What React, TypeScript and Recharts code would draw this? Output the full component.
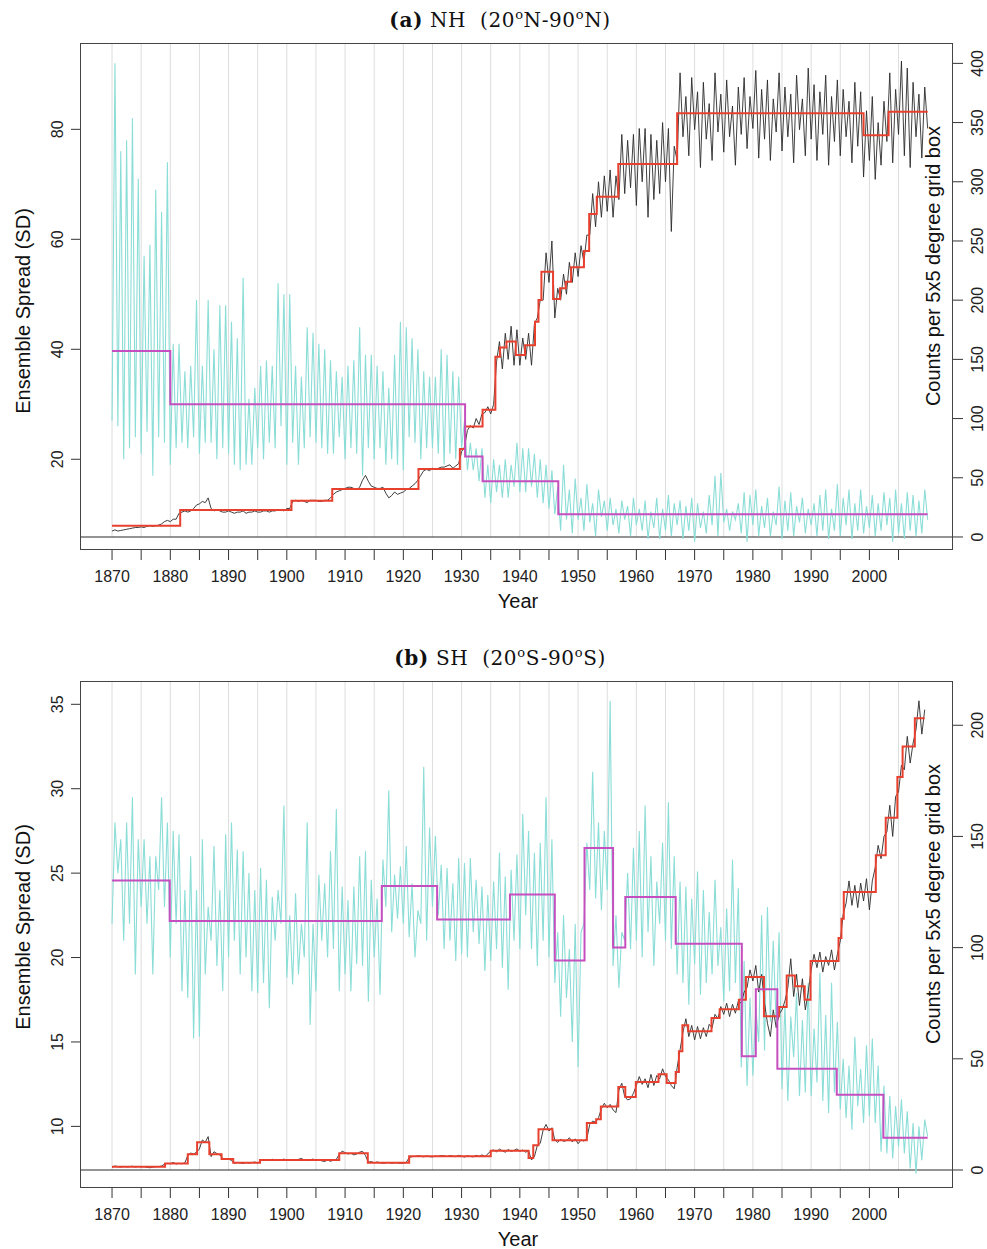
import React from "react";
import { ComposedChart, Line, XAxis, YAxis, ReferenceLine } from "recharts";

// Half-yearly readings (1870.0, 1870.5, ...). Spread is in SD units, counts per 5x5 box.
const nhSpread = [
  27, 92, 26, 76, 20, 78, 22, 82, 24, 71, 21, 57, 25, 59, 17, 69, 24, 65, 23, 74,
  19, 41, 22, 41, 23, 36, 22, 37, 24, 49, 21, 37, 23, 49, 23, 40, 20, 48, 22, 48,
  21, 45, 19, 42, 18, 53, 19, 31, 19, 33, 22, 37, 20, 38, 23, 37, 22, 52, 26, 50,
  19, 50, 23, 37, 19, 35, 22, 44, 24, 43, 23, 41, 22, 40, 21, 38, 21, 36, 24, 35,
  20, 37, 22, 38, 21, 44, 17, 39, 22, 39, 20, 37, 22, 36, 19, 33, 20, 39, 19, 45,
  18, 44, 24, 42, 23, 40, 20, 36, 22, 35, 22, 35, 21, 40, 19, 39, 21, 36, 20, 35,
  22, 27, 18, 23, 18, 22, 16, 22, 13, 19, 12, 20, 14, 19, 13, 20, 13, 19, 15, 23,
  14, 22, 14, 22, 15, 21, 13, 20, 12, 19, 11, 18, 10, 15, 7, 19, 9, 14.5, 6.5, 16.5,
  9, 13, 7, 15.5, 8.5, 12, 6, 14.5, 9.5, 12.5, 7, 13, 8, 11, 6.5, 12.5, 9, 11.5, 6, 13,
  8, 11, 7, 12.5, 5.5, 10.5, 7.5, 13, 5.5, 11, 7, 13.5, 6, 12, 8, 12.5, 5.5, 11.5, 7, 13,
  5, 12, 7.5, 10.5, 6.5, 13.5, 8, 17, 6, 17.5, 8.5, 11, 7, 10.5, 9, 12, 6.5, 14, 5, 13.5,
  8, 14.5, 6, 11.5, 7.5, 13, 6, 10.5, 8, 15, 5.5, 12.5, 7, 14, 6, 11.5, 8.5, 13, 6.5, 11,
  8, 12, 6, 13.5, 7, 14.5, 5.5, 11, 7, 15.5, 6, 13, 8, 14.5, 5.5, 12, 7, 14.5, 6.5, 11.5,
  7.5, 13.5, 6, 12, 7, 14, 8, 13, 5, 14.5, 6.5, 12, 5.5, 14, 7, 13.5, 6, 12.5, 6.5, 14.5,
  9,
];

const nhCounts = [
  5, 6, 5, 5.5, 6, 6.5, 7, 7.5, 8, 8, 8.5, 8, 9, 9.5, 9, 9.5, 10, 11, 13, 14,
  13, 15, 15, 20, 21, 22, 21, 22, 24, 27, 28, 30, 29, 33, 24, 22, 23, 22, 21, 21,
  22, 21, 20, 21, 21, 22, 20, 21, 21, 22, 21, 21, 22, 22, 21, 22, 22, 23, 23, 22,
  24, 24, 30, 31, 30, 31, 30, 29, 31, 31, 31, 30, 30, 31, 31, 33, 36, 38, 39, 40,
  41, 42, 42, 41, 40, 42, 48, 52, 47, 43, 42, 41, 41, 42, 37, 33, 35, 38, 36, 37,
  38, 40, 41, 43, 45, 48, 52, 56, 57, 56, 58, 57, 58, 59, 59, 60, 61, 58, 60, 62,
  72, 76, 90, 94, 92, 100, 95, 104, 105, 110, 104, 112, 148, 165, 142, 172, 150, 178, 145, 175,
  145, 168, 150, 172, 145, 180, 185, 200, 200, 240, 215, 250, 185, 210, 200, 222, 205, 232, 215, 240,
  220, 246, 232, 255, 255, 290, 262, 300, 270, 305, 275, 310, 270, 305, 285, 340, 290, 335, 295, 340,
  280, 345, 300, 345, 270, 340, 285, 335, 290, 350, 300, 345, 258, 330, 318, 392, 338, 372, 322, 388,
  344, 376, 312, 384, 336, 366, 318, 392, 342, 374, 325, 386, 338, 364, 314, 380, 340, 388, 328, 372,
  345, 394, 320, 378, 336, 386, 318, 370, 342, 392, 326, 380, 338, 374, 316, 390, 344, 370, 322, 396,
  336, 382, 318, 376, 340, 390, 314, 372, 334, 386, 322, 378, 338, 368, 316, 384, 330, 376, 304, 360,
  318, 372, 302, 350, 314, 368, 334, 392, 316, 378, 340, 402, 322, 396, 312, 384, 338, 374, 320, 380,
  345,
];

const shSpread = [
  22, 28, 25, 27, 21, 28, 22, 29.5, 19, 27, 23, 27, 22, 26, 19, 26, 24, 29.5, 23, 28,
  20, 27.5, 22, 27.3, 18, 24, 17.6, 26, 15.2, 24, 15.3, 27, 19, 23, 21, 26.6, 19.5, 24, 18, 27.3,
  20, 28, 21, 26.4, 19, 26.3, 20, 25, 18, 24, 17.9, 25.3, 18.5, 24.6, 17, 23.6, 21, 24, 22, 29,
  18.8, 22.5, 18.4, 23.8, 19, 22, 20, 28, 16, 22, 18, 24.9, 21, 24.4, 20, 26.3, 20.5, 28.8, 18, 24.2,
  19, 23.4, 18, 24.2, 19.6, 26, 19.5, 26.3, 17.4, 24.6, 20, 23.5, 17.8, 25.8, 23, 29.9, 21.5, 24.9, 22.3, 25.4,
  22, 26.6, 21.2, 24.4, 20, 22.8, 22, 31.3, 21, 27.7, 23, 27.2, 22.5, 25.5, 20.5, 25.3, 21, 24.4, 19.8, 25.9,
  20.2, 25.6, 20, 25.9, 21.5, 24.6, 20.8, 24.2, 19.2, 23.7, 19.8, 24.5, 20.5, 26.2, 19.4, 24.8, 18.1, 25.2, 21, 26.1,
  20.5, 28.5, 22.5, 27.5, 20.5, 26.2, 19.5, 26.8, 21, 29.5, 20, 27, 18.5, 21.5, 16.5, 22.5, 17.6, 20.5, 15, 22,
  13.5, 21.5, 22, 26.8, 24, 31, 23.5, 28, 22.8, 27.5, 24, 35.2, 19.5, 22.5, 18.2, 21.5, 21, 25, 20.5, 26.5,
  21, 27.5, 20, 29, 21.5, 26, 19.5, 24.5, 22, 26.8, 21, 29.2, 20.5, 26, 19, 24.5, 18.5, 24.2, 17.2, 23.5,
  19.6, 25.1, 17.8, 24, 18.5, 22.7, 19, 24.6, 19.5, 21.8, 17.4, 22.9, 18, 25.8, 18.5, 24.1, 13.5, 19.8, 12.4, 17.6,
  13, 17, 15, 22.5, 14.5, 23, 16.2, 21, 16, 21.5, 12.2, 17.2, 11.5, 16.5, 14.1, 17.9, 11.8, 16.3, 12, 18.5,
  11.8, 15.8, 12.6, 19.1, 11.5, 16.6, 10.8, 18.5, 12, 16.2, 11, 14, 10.5, 13.6, 9.8, 15.3, 11.2, 13.4, 10.2, 14.8,
  10.6, 15.2, 10.2, 13.6, 8.5, 12.4, 8.4, 11.8, 8.1, 11.2, 8.8, 11.6, 8.4, 10.9, 7.5, 10.2, 7.2, 10, 8, 10.4,
  9.4,
];

const shCounts = [
  1.2, 1.8, 1.5, 1.3, 1.6, 1.4, 1.5, 1.7, 1.3, 1.6, 1.4, 1.5, 1.2, 1.0, 1.3, 1.5, 1.5, 1.8, 2.6, 3.0,
  2.8, 3.4, 2.7, 3.0, 2.8, 3.2, 6.5, 7.6, 7.2, 8.0, 9.5, 13.5, 12.5, 15.0, 6.0, 8.2, 7.4, 6.8, 5.2, 4.8,
  5.0, 4.2, 3.0, 3.4, 3.2, 2.9, 3.4, 3.1, 3.3, 3.6, 3.1, 4.2, 4.4, 4.6, 4.3, 4.8, 4.6, 4.2, 4.5, 4.9,
  4.4, 4.7, 4.6, 4.3, 4.8, 5.2, 4.5, 4.2, 4.6, 4.9, 4.3, 4.6, 4.1, 3.8, 4.5, 3.9, 4.4, 4.8, 7.0, 8.5,
  7.8, 7.2, 7.5, 6.8, 7.2, 8.0, 8.4, 6.5, 3.5, 3.8, 3.2, 3.6, 3.3, 3.0, 3.2, 3.4, 3.0, 3.3, 3.2, 3.0,
  3.1, 3.4, 5.6, 6.0, 6.1, 6.4, 6.2, 5.9, 6.3, 6.0, 5.9, 6.2, 6.1, 6.5, 6.4, 6.0, 6.5, 6.2, 6.0, 6.6,
  6.2, 5.8, 6.4, 6.1, 5.9, 6.6, 6.1, 6.8, 6.0, 7.2, 8.6, 9.0, 8.2, 9.4, 8.6, 8.0, 9.2, 8.4, 8.8, 9.5,
  8.4, 9.0, 8.0, 8.6, 4.5, 6.0, 11.0, 12.0, 18.0, 20.5, 17.5, 19.0, 13.5, 12.4, 13.8, 12.9, 13.2, 14.5, 12.6, 14.0,
  11.8, 13.5, 13.0, 14.2, 20.5, 22.0, 21.5, 23.5, 27.5, 30.0, 28.0, 29.5, 27.0, 25.8, 36.0, 39.0, 33.0, 31.5, 32.0, 34.5,
  38.0, 42.0, 38.5, 41.0, 37.0, 43.0, 38.0, 42.5, 41.0, 45.5, 42.0, 40.5, 38.0, 36.5, 46.0, 54.0, 62.0, 68.0, 60.0, 65.0,
  58.5, 64.5, 59.0, 64.0, 60.0, 65.5, 64.0, 70.0, 68.0, 73.5, 70.0, 75.0, 69.0, 74.5, 70.5, 76.0, 75.0, 80.0, 82.0, 90.0,
  85.0, 92.0, 80.0, 88.0, 75.0, 66.0, 60.0, 72.0, 64.0, 70.0, 72.0, 76.0, 82.0, 95.0, 78.0, 88.0, 74.0, 86.0, 72.0, 80.0,
  90.0, 97.0, 91.0, 98.0, 89.0, 96.0, 92.0, 99.0, 90.0, 97.0, 103.0, 115.0, 120.0, 130.0, 119.0, 128.0, 118.0, 129.0, 121.0, 131.0,
  117.0, 130.0, 136.0, 146.0, 140.0, 150.0, 152.0, 164.0, 150.0, 168.0, 170.0, 182.0, 180.0, 195.0, 183.0, 192.0, 198.0, 211.0, 196.0, 207.0,
];

// Segment means: each level holds from its break year to the next one.
const nhSpreadBreaks = [1870, 1880, 1930.6, 1933.6, 1946.6];
const nhSpreadLevels = [39.7, 30.0, 20.5, 16.0, 10.0];

const nhCountBreaks = [
  1870, 1881.7, 1900.8, 1907.8, 1922.6, 1929.7, 1930.6, 1933.6, 1935.8, 1936.6,
  1937.7, 1939.3, 1940.9, 1942.6, 1943.2, 1943.7, 1945.7, 1946.9, 1947.9, 1948.8,
  1951.0, 1951.9, 1953.2, 1956.9, 1967.0, 1999.0, 2003.3,
];
const nhCountLevels = [
  9.5, 22.8, 30.7, 40.5, 57.4, 74.3, 93.2, 107.5, 152.3, 160,
  165, 153.7, 162, 181.8, 200.2, 224, 201, 210, 215.6, 227.8,
  241.6, 272.8, 287.4, 315, 357.9, 339.3, 359.2,
];

const shSpreadBreaks = [
  1870, 1879.9, 1916.3, 1925.8, 1938.3, 1946.0, 1951.1, 1956.0, 1958.1, 1966.75,
  1978.1, 1980.5, 1984.2, 1994.4, 2002.4,
];
const shSpreadLevels = [
  24.57, 22.16, 24.24, 22.26, 23.73, 19.83, 26.49, 20.59, 23.58, 20.82,
  14.16, 18.12, 13.42, 11.88, 9.33,
];

const shCountBreaks = [
  1870, 1879.1, 1883.0, 1884.6, 1886.7, 1888.8, 1890.8, 1895.4, 1909.0, 1913.9,
  1921.0, 1935.0, 1941.5, 1942.3, 1943.2, 1945.6, 1951.5, 1953.1, 1953.9, 1956.9,
  1958.1, 1959.9, 1963.8, 1965.2, 1966.75, 1967.3, 1967.9, 1968.9, 1972.9, 1974.3,
  1977.6, 1978.8, 1981.9, 1984.5, 1985.8, 1987.2, 1988.9, 1989.9, 1994.7, 1995.2,
  1995.6, 2001.1, 2002.8, 2004.8, 2005.7, 2007.8,
];
const shCountLevels = [
  1.5, 2.9, 7.1, 12.5, 7.1, 4.9, 3.3, 4.5, 7.5, 3.2,
  6.2, 8.7, 5.4, 11.1, 18.3, 13.4, 21.1, 22.8, 28.6, 37.3,
  32.8, 39.6, 43.0, 39.1, 44.1, 53.4, 65.1, 62.4, 68.3, 72.3,
  76.6, 86.8, 69.1, 73.3, 87.5, 82.6, 76.6, 94.0, 104.3, 113,
  125, 141.5, 158.4, 176.7, 190.5, 203.2,
];

const xTicks = [
  1870, 1875, 1880, 1885, 1890, 1895, 1900, 1905, 1910, 1915, 1920, 1925, 1930, 1935,
  1940, 1945, 1950, 1955, 1960, 1965, 1970, 1975, 1980, 1985, 1990, 1995, 2000, 2005,
];
const xLabels = [1870, 1880, 1890, 1900, 1910, 1920, 1930, 1940, 1950, 1960, 1970, 1980, 1990, 2000];
const nhSpreadTicks = [20, 40, 60, 80];
const nhCountTicks = [0, 50, 100, 150, 200, 250, 300, 350, 400];
const shSpreadTicks = [10, 15, 20, 25, 30, 35];
const shCountTicks = [0, 50, 100, 150, 200];

const START = 1870;
const STEP = 0.5;
const X_DOMAIN: [number, number] = [1864.5, 2014.35];

const CYAN = "#8bddd7";
const MAGENTA = "#c64fbf";
const RED = "#e8402f";
const INK = "#2a2a2a";
const SANS = "'Liberation Sans', Arial, Helvetica, sans-serif";
const SERIF = "'DejaVu Serif', 'Liberation Serif', serif";

const W = 987;
const H = 620;
const PLOT = { left: 80, top: 43, right: 953, bottom: 550 };

type Pt = { year: number; v: number };

const halfYearly = (vals: number[]): Pt[] =>
  vals.map((v, i) => ({ year: START + i * STEP, v }));

const steps = (breaks: number[], levels: number[], end: number): Pt[] => [
  ...breaks.map((b, i) => ({ year: b, v: levels[i] })),
  { year: end, v: levels[levels.length - 1] },
];

const XTick = (props: any) => {
  const { x, y, payload } = props;
  if (!xLabels.includes(payload.value)) return <g />;
  return (
    <text x={x} y={y + 14} textAnchor="middle" dominantBaseline="central"
      fontFamily={SANS} fontSize={16} fill="#222">
      {payload.value}
    </text>
  );
};

const makeYTick = (dx: number) => (props: any) => {
  const { x, y, payload } = props;
  const cx = x + dx;
  return (
    <text x={cx} y={y} transform={`rotate(-90, ${cx}, ${y})`} textAnchor="middle"
      dominantBaseline="central" fontFamily={SANS} fontSize={16} fill="#222">
      {payload.value}
    </text>
  );
};

interface PanelProps {
  top: number;
  tag: string;
  region: string;
  hemi: string;
  spread: Pt[];
  counts: Pt[];
  spreadMeans: Pt[];
  countMeans: Pt[];
  spreadDomain: [number, number];
  countDomain: [number, number];
  spreadTicks: number[];
  countTicks: number[];
  leftLabelY: number;
}

function Panel(p: PanelProps) {
  const rotated = (cx: number, cy: number, text: string) => (
    <div style={{
      position: "absolute", left: cx, top: cy, transform: "translate(-50%, -50%) rotate(-90deg)",
      whiteSpace: "nowrap", fontFamily: SANS, fontSize: 20, lineHeight: 1, color: "#111",
    }}>{text}</div>
  );
  return (
    <div style={{ position: "absolute", left: 0, top: p.top, width: W, height: H }}>
      <ComposedChart width={W} height={H} margin={{ top: 43, right: 4, bottom: 30, left: 30 }}>
        <XAxis type="number" dataKey="year" domain={X_DOMAIN} allowDataOverflow ticks={xTicks}
          interval={0} height={40} tickSize={10} axisLine={false}
          tickLine={{ stroke: "#333" }} tick={XTick} />
        <YAxis yAxisId="sd" orientation="left" type="number" domain={p.spreadDomain}
          allowDataOverflow ticks={p.spreadTicks} interval={0} width={50} tickSize={9}
          axisLine={false} tickLine={{ stroke: "#333" }} tick={makeYTick(-11)} />
        <YAxis yAxisId="n" orientation="right" type="number" domain={p.countDomain}
          allowDataOverflow ticks={p.countTicks} interval={0} width={30} tickSize={10}
          axisLine={false} tickLine={{ stroke: "#333" }} tick={makeYTick(13)} />
        {xTicks.map((yr) => (
          <ReferenceLine key={yr} yAxisId="n"
            segment={[{ x: yr, y: 0 }, { x: yr, y: p.countDomain[1] }]}
            stroke="#dddddd" strokeWidth={1} />
        ))}
        <ReferenceLine yAxisId="n" y={0} stroke={INK} strokeWidth={1.2} />
        <Line yAxisId="sd" data={p.spread} dataKey="v" stroke={CYAN} strokeWidth={1.1}
          dot={false} isAnimationActive={false} />
        <Line yAxisId="n" data={p.counts} dataKey="v" stroke={INK} strokeWidth={0.9}
          dot={false} isAnimationActive={false} />
        <Line yAxisId="n" data={p.countMeans} dataKey="v" type="stepAfter" stroke={RED}
          strokeWidth={2} dot={false} isAnimationActive={false} />
        <Line yAxisId="sd" data={p.spreadMeans} dataKey="v" type="stepAfter" stroke={MAGENTA}
          strokeWidth={2} dot={false} isAnimationActive={false} />
      </ComposedChart>
      <div style={{
        position: "absolute", left: PLOT.left, top: PLOT.top,
        width: PLOT.right - PLOT.left, height: PLOT.bottom - PLOT.top,
        border: "1.3px solid #444", boxSizing: "border-box", pointerEvents: "none",
      }} />
      <div style={{
        position: "absolute", left: 0, width: 1000, top: 7, textAlign: "center",
        fontFamily: SERIF, fontSize: 20, color: "#111", whiteSpace: "nowrap", letterSpacing: 0.6,
      }}>
        <b>({p.tag})</b> {p.region}&nbsp; (20<sup style={{ fontSize: 13 }}>o</sup>{p.hemi}-90
        <sup style={{ fontSize: 13 }}>o</sup>{p.hemi})
      </div>
      {rotated(23, p.leftLabelY, "Ensemble Spread (SD)")}
      {rotated(933, 266, "Counts per 5x5 degree grid box")}
      <div style={{
        position: "absolute", left: 518, top: 601, transform: "translate(-50%, -50%)",
        fontFamily: SANS, fontSize: 20, lineHeight: 1, color: "#111",
      }}>Year</div>
    </div>
  );
}

export default function App() {
  return (
    <div style={{ position: "absolute", left: 0, top: 0, width: W, height: 1249, background: "#fff" }}>
      <Panel top={0} tag="a" region="NH" hemi="N"
        spread={halfYearly(nhSpread)} counts={halfYearly(nhCounts)}
        spreadMeans={steps(nhSpreadBreaks, nhSpreadLevels, 2010)}
        countMeans={steps(nhCountBreaks, nhCountLevels, 2010)}
        spreadDomain={[3.5, 95.7]} countDomain={[-11, 417.2]}
        spreadTicks={nhSpreadTicks} countTicks={nhCountTicks} leftLabelY={311} />
      <Panel top={638} tag="b" region="SH" hemi="S"
        spread={halfYearly(shSpread)} counts={halfYearly(shCounts)}
        spreadMeans={steps(shSpreadBreaks, shSpreadLevels, 2010)}
        countMeans={steps(shCountBreaks, shCountLevels, 2009.5)}
        spreadDomain={[6.35, 36.38]} countDomain={[-8.1, 219.9]}
        spreadTicks={shSpreadTicks} countTicks={shCountTicks} leftLabelY={289} />
    </div>
  );
}
